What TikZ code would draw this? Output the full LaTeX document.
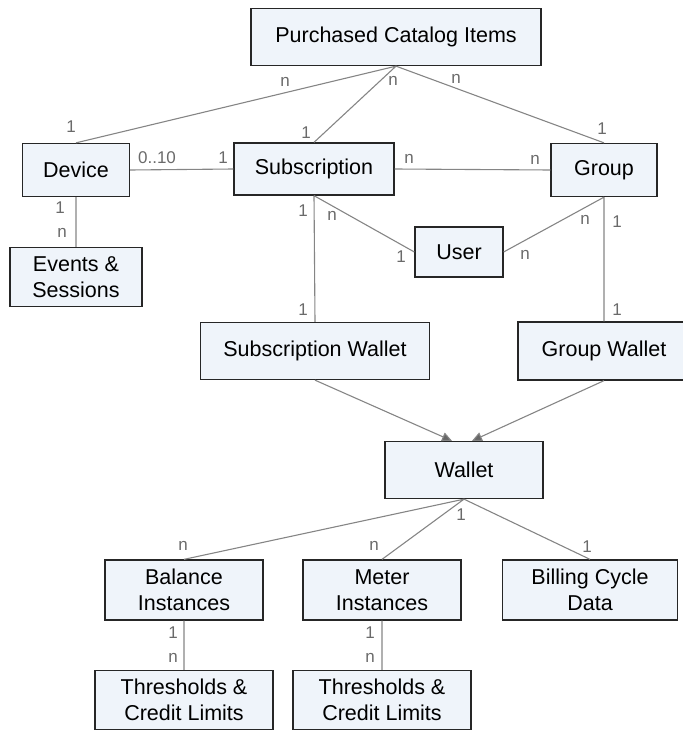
\documentclass[tikz,border=0pt]{standalone}
\usepackage{fontspec}
\setmainfont{Liberation Sans}
\usetikzlibrary{arrows.meta}

\definecolor{boxfill}{HTML}{EFF4FA}
\definecolor{linkgray}{HTML}{858585}
\definecolor{cardgray}{HTML}{6A6A6A}

\tikzset{
  entity/.style={draw=black!85, line width=1.3pt, fill=boxfill, align=center,
    inner sep=0pt, font=\fontsize{21.5}{26}\selectfont},
  link/.style={draw=linkgray, line width=1.1pt},
  card/.style={text=cardgray, inner sep=0pt, font=\fontsize{17}{20}\selectfont}
}

\begin{document}
\begin{tikzpicture}[x=1pt, y=-1pt]
        \useasboundingbox (0,0) rectangle (682,730);

        \node[entity, minimum width=290pt, minimum height=57pt] (pci) at (396,37) {Purchased Catalog Items};
        \node[entity, minimum width=107pt, minimum height=53pt] (dev) at (76,170) {Device};
        \node[entity, minimum width=160pt, minimum height=52pt] (sub) at (314,169) {Subscription};
        \node[entity, minimum width=106pt, minimum height=53pt] (grp) at (604,170) {Group};
        \node[entity, minimum width=132pt, minimum height=59pt] (evt) at (76,277) {Events \&\\Sessions};
        \node[entity, minimum width=88pt, minimum height=50pt] (usr) at (459,252) {User};
        \node[entity, minimum width=229pt, minimum height=57pt] (subw) at (315,351) {Subscription Wallet};
        \node[entity, minimum width=172pt, minimum height=58pt] (grpw) at (604,351) {Group Wallet};
        \node[entity, minimum width=158pt, minimum height=57pt] (wal) at (464,470) {Wallet};
        \node[entity, minimum width=158pt, minimum height=60pt] (bal) at (184,590) {Balance\\Instances};
        \node[entity, minimum width=158pt, minimum height=60pt] (met) at (382,590) {Meter\\Instances};
        \node[entity, minimum width=175pt, minimum height=60pt] (bil) at (590,590) {Billing Cycle\\Data};
        \node[entity, minimum width=178pt, minimum height=59pt] (thr1) at (184,700) {Thresholds \&\\Credit Limits};
        \node[entity, minimum width=178pt, minimum height=59pt] (thr2) at (382,700) {Thresholds \&\\Credit Limits};

        \draw[link] (pci.south) -- (dev.north)
                    (pci.south) -- (sub.north)
                    (pci.south) -- (grp.north)
                    (dev.east) -- (sub.west)
                    (sub.east) -- (grp.west)
                    (dev.south) -- (evt.north)
                    (sub.south) -- (usr.west)
                    (grp.south) -- (usr.east)
                    (sub.south) -- (subw.north)
                    (grp.south) -- (grpw.north)
                    (wal.south) -- (bal.north)
                    (wal.south) -- (met.north)
                    (wal.south) -- (bil.north)
                    (bal.south) -- (thr1.north)
                    (met.south) -- (thr2.north);

        \draw[link, -{Triangle[length=10pt, width=9pt, fill=black!60]}] (subw.south) -- ([xshift=-12pt]wal.north);
        \draw[link, -{Triangle[length=10pt, width=9pt, fill=black!60]}] (grpw.south) -- ([xshift=8pt]wal.north);

        % cardinalities
        \foreach \x/\y/\t [count=\i] in {285/82/n, 393/81/n, 456/79/n, 71/127/1, 306/133/1, 602/129/1,
                157/158/0..10, 223/158/1, 409/159/n, 535/160/n, 60/208/1, 62/233/n,
                303/211/1, 332/216/n, 401/257/1, 585/220/n, 617/222/1, 525/255/n,
                303/310/1, 617/310/1, 461/515/1, 183/546/n, 374/546/n, 587/547/1,
                173/633/1, 173/658/n, 370/633/1, 370/658/n}
            \node[card] (c\i) at (\x,\y) {\t};
\end{tikzpicture}
\end{document}
